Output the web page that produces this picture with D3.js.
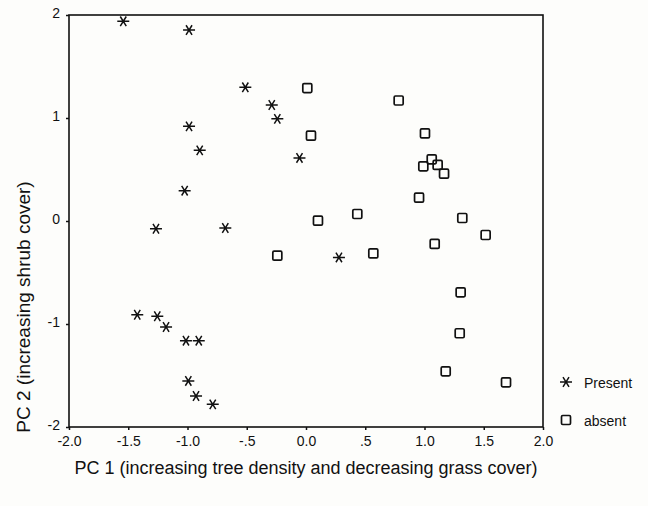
<!DOCTYPE html>
<html><head><meta charset="utf-8">
<script src="https://cdn.jsdelivr.net/npm/d3@7"></script>
<style>body{margin:0;background:#fdfdfb;} svg{display:block;font-family:Arial,"Liberation Sans",sans-serif;}</style>
</head><body>
<svg id="c" width="648" height="506"></svg>
<script>
const presentX = [-1.542,-0.987,-0.512,-0.289,-0.242,-0.987,-0.897,-0.055,-1.024,-1.266,-0.681,0.278,-1.424,-1.255,-1.181,-1.013,-0.905,-0.993,-0.928,-0.787];
const presentY = [1.939,1.854,1.298,1.126,0.992,0.919,0.686,0.612,0.294,-0.075,-0.068,-0.354,-0.910,-0.925,-1.029,-1.162,-1.162,-1.553,-1.699,-1.780];
const absentX = [0.011,0.042,0.101,0.433,-0.242,0.568,0.782,1.004,0.990,1.061,1.111,1.165,0.954,1.319,1.516,1.086,1.305,1.297,1.179,1.688];
const absentY = [1.291,0.828,0.003,0.068,-0.337,-0.314,1.170,0.851,0.531,0.599,0.544,0.459,0.226,0.029,-0.136,-0.223,-0.692,-1.090,-1.459,-1.566];
const xTicks = [-2,-1.5,-1,-0.5,0,0.5,1,1.5,2];
const xTickLabels = ["-2.0","-1.5","-1.0","-.5","0.0",".5","1.0","1.5","2.0"];
const yTicks = [-2,-1,0,1,2];
const yTickLabels = ["-2","-1","0","1","2"];
const seriesNames = ["Present","absent"];
const xTitle = "PC 1 (increasing tree density and decreasing grass cover)";
const yTitle = "PC 2 (increasing shrub cover)";

const svg = d3.select("#c");
const L=69, R=543, T=15, B=427;
const x = d3.scaleLinear().domain([-2,2]).range([L,R]);
const y = d3.scaleLinear().domain([-2,2]).range([B,T]);

const starPath = "M-6,0H6M-3,-4.8L3,4.8M-3,4.8L3,-4.8";
function star(g){ g.append("path").attr("d",starPath).attr("stroke","#111").attr("stroke-width",1.5).attr("fill","none"); }
function square(g){ g.append("rect").attr("x",-4.5).attr("y",-4.5).attr("width",9).attr("height",9).attr("rx",1.2)
  .attr("fill","none").attr("stroke","#111").attr("stroke-width",1.7); }

// frame
svg.append("rect").attr("x",L).attr("y",T).attr("width",R-L).attr("height",B-T)
  .attr("fill","none").attr("stroke","#111").attr("stroke-width",1.6);

// axes
const xa = svg.append("g").attr("transform",`translate(0,${B})`)
  .call(d3.axisBottom(x).tickValues(xTicks).tickFormat((d,i)=>xTickLabels[i]).tickSize(3).tickPadding(6));
const ya = svg.append("g").attr("transform",`translate(${L},0)`)
  .call(d3.axisLeft(y).tickValues(yTicks).tickFormat((d,i)=>yTickLabels[i]).tickSize(3).tickPadding(6));
[xa,ya].forEach(a=>{ a.select(".domain").remove();
  a.selectAll("line").attr("stroke","#111").attr("stroke-width",1.5);
  a.selectAll("text").attr("fill","#111").style("font-size","14px").style("font-family","Arial, 'Liberation Sans', sans-serif"); });
ya.selectAll("text").attr("dy","0.2em");

// points
presentX.forEach((v,i)=>{ svg.append("g").attr("transform",`translate(${x(v)},${y(presentY[i])})`).call(star); });
absentX.forEach((v,i)=>{ svg.append("g").attr("transform",`translate(${x(v)},${y(absentY[i])})`).call(square); });

// legend
const lg = svg.append("g");
lg.append("g").attr("transform","translate(566,382)").call(star);
lg.append("g").attr("transform","translate(566,420)").call(square);
lg.append("text").attr("x",584).attr("y",388).text(seriesNames[0]).style("font-size","14px").attr("fill","#111");
lg.append("text").attr("x",584).attr("y",426).text(seriesNames[1]).style("font-size","14px").attr("fill","#111");

// titles
svg.append("text").attr("x",(L+R)/2).attr("y",474).attr("text-anchor","middle")
  .style("font-size","18px").attr("fill","#111").text(xTitle);
svg.append("text").attr("transform",`translate(30,307) rotate(-90)`).attr("text-anchor","middle")
  .style("font-size","19px").attr("fill","#111").text(yTitle);
</script>
</body></html>
